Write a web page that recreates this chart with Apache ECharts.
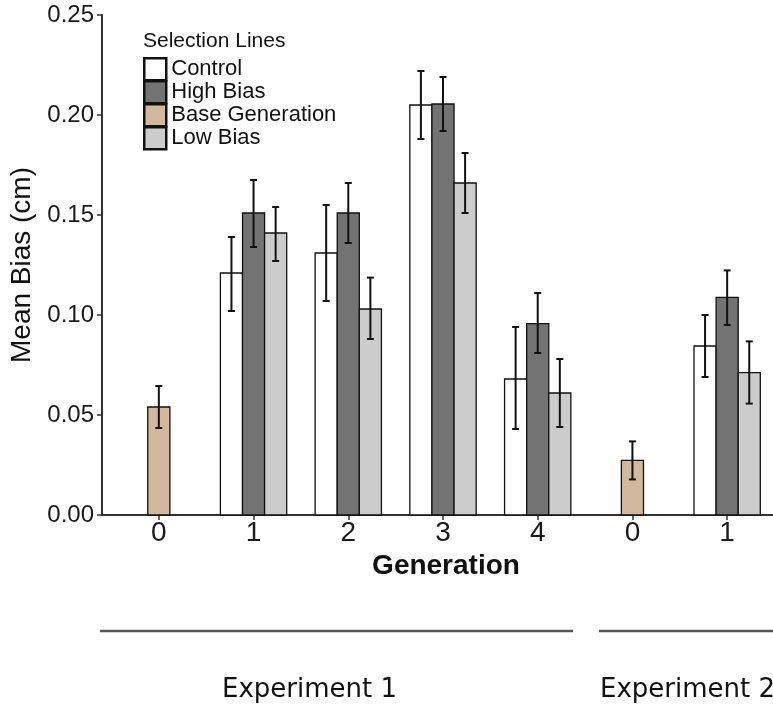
<!DOCTYPE html>
<html>
<head>
<meta charset="utf-8">
<script src="https://cdn.jsdelivr.net/npm/echarts@6/dist/echarts.min.js"></script>
<style>
  html, body { margin: 0; padding: 0; background: #fff; }
  #myChart { width: 773px; height: 708px; }
</style>
</head>
<body>
<div id="myChart"></div>
<script>
// data
var genLabels = ['0', '1', '2', '3', '4', '0', '1'];
var genPos = [0, 1, 2, 3, 4, 5, 6];

var ctrlMean = [null, 0.121, 0.131, 0.205, 0.068, null, 0.0845];
var ctrlLo   = [null, 0.102, 0.107, 0.188, 0.043, null, 0.069];
var ctrlHi   = [null, 0.139, 0.155, 0.222, 0.094, null, 0.100];

var highMean = [null, 0.151, 0.151, 0.2055, 0.0957, null, 0.1088];
var highLo   = [null, 0.134, 0.136, 0.192, 0.081, null, 0.095];
var highHi   = [null, 0.1675, 0.166, 0.219, 0.111, null, 0.1223];

var baseMean = [0.054, null, null, null, null, 0.0273, null];
var baseLo   = [0.0435, null, null, null, null, 0.0178, null];
var baseHi   = [0.0645, null, null, null, null, 0.0368, null];

var lowMean  = [null, 0.141, 0.103, 0.166, 0.061, null, 0.0712];
var lowLo    = [null, 0.127, 0.088, 0.151, 0.044, null, 0.0557];
var lowHi    = [null, 0.154, 0.1187, 0.181, 0.078, null, 0.0868];

var barW = 0.7 / 3;

function build(mean, lo, hi, offset) {
    var out = [];
    for (var i = 0; i < mean.length; i++) {
        if (mean[i] == null) continue;
        out.push([genPos[i] + offset, mean[i], lo[i], hi[i]]);
    }
    return out;
}

function renderBar(params, api) {
    var x = api.value(0), y = api.value(1), lo = api.value(2), hi = api.value(3);
    var p0 = api.coord([x - barW / 2, 0]);
    var p1 = api.coord([x + barW / 2, y]);
    var c = api.coord([x, lo]);
    var t = api.coord([x, hi]);
    var cap = 3.5;
    var ls = { stroke: '#111', lineWidth: 2 };
    return {
        type: 'group',
        children: [
            { type: 'rect', shape: { x: p0[0], y: p1[1], width: p1[0] - p0[0], height: p0[1] - p1[1] },
              style: api.style({ stroke: '#111', lineWidth: 1.3 }) },
            { type: 'line', shape: { x1: c[0], y1: c[1], x2: t[0], y2: t[1] }, style: ls },
            { type: 'line', shape: { x1: c[0] - cap, y1: c[1], x2: c[0] + cap, y2: c[1] }, style: ls },
            { type: 'line', shape: { x1: t[0] - cap, y1: t[1], x2: t[0] + cap, y2: t[1] }, style: ls }
        ]
    };
}

function mkSeries(name, color, data) {
    return {
        name: name,
        type: 'custom',
        renderItem: renderBar,
        itemStyle: { color: color },
        encode: { x: 0, y: 1 },
        data: data
    };
}

var myChart = echarts.init(document.getElementById('myChart'));

var option = {
    animation: false,
    backgroundColor: '#fff',
    title: {
        text: 'Selection Lines',
        left: 143,
        top: 31,
        padding: 0,
        textStyle: { fontFamily: 'Liberation Sans', fontSize: 21, fontWeight: 'normal', color: '#111' }
    },
    legend: {
        orient: 'vertical',
        left: 143,
        top: 57,
        padding: 0,
        itemWidth: 22,
        itemHeight: 22,
        itemGap: -1.5,
        icon: 'rect',
        itemStyle: { borderColor: '#111', borderWidth: 2.5 },
        textStyle: { fontFamily: 'Liberation Sans', fontSize: 22, lineHeight: 22, color: '#111' },
        data: ['Control', 'High Bias', 'Base Generation', 'Low Bias']
    },
    grid: { left: 100, right: 0, top: 15, bottom: 193 },
    xAxis: {
        type: 'value',
        min: -0.6,
        max: 6.484,
        name: 'Generation',
        nameLocation: 'middle',
        nameGap: 33,
        nameTextStyle: { fontFamily: 'Liberation Sans', fontSize: 28, fontWeight: 'bold', color: '#111', padding: [0, 0, 0, 17] },
        axisLine: { onZero: false, lineStyle: { color: '#333', width: 2 } },
        axisTick: { customValues: genPos, length: 5, lineStyle: { color: '#333', width: 1.5 } },
        axisLabel: {
            customValues: genPos,
            margin: 4,
            fontFamily: 'Liberation Sans', fontSize: 28, color: '#1a1a1a',
            formatter: function (v) { return genLabels[Math.round(v)]; }
        },
        splitLine: { show: false }
    },
    yAxis: {
        type: 'value',
        min: 0,
        max: 0.25,
        interval: 0.05,
        name: 'Mean Bias (cm)',
        nameLocation: 'middle',
        nameGap: 66,
        nameTextStyle: { fontFamily: 'Liberation Sans', fontSize: 28, color: '#111' },
        axisLine: { show: true, onZero: false, lineStyle: { color: '#333', width: 2 } },
        axisTick: { show: true, length: 5, lineStyle: { color: '#333', width: 1.5 } },
        axisLabel: {
            margin: 8,
            fontFamily: 'Liberation Sans', fontSize: 24, color: '#1a1a1a',
            formatter: function (v) { return v.toFixed(2); }
        },
        splitLine: { show: false }
    },
    graphic: [
        { type: 'line', shape: { x1: 100, y1: 631, x2: 573, y2: 631 }, style: { stroke: '#555', lineWidth: 2.7 } },
        { type: 'line', shape: { x1: 599, y1: 631, x2: 773, y2: 631 }, style: { stroke: '#555', lineWidth: 2.7 } },
        { type: 'text', left: 222, top: 677,
          style: { text: 'Experiment 1', font: '26px "DejaVu Sans"', fill: '#111' } },
        { type: 'text', left: 600, top: 677,
          style: { text: 'Experiment 2', font: '26px "DejaVu Sans"', fill: '#111' } }
    ],
    series: [
        mkSeries('Control', '#ffffff', build(ctrlMean, ctrlLo, ctrlHi, -barW)),
        mkSeries('High Bias', '#737373', build(highMean, highLo, highHi, 0)),
        mkSeries('Base Generation', '#d2b89c', build(baseMean, baseLo, baseHi, 0)),
        mkSeries('Low Bias', '#cccccc', build(lowMean, lowLo, lowHi, barW))
    ]
};
myChart.setOption(option);
</script>
</body>
</html>
